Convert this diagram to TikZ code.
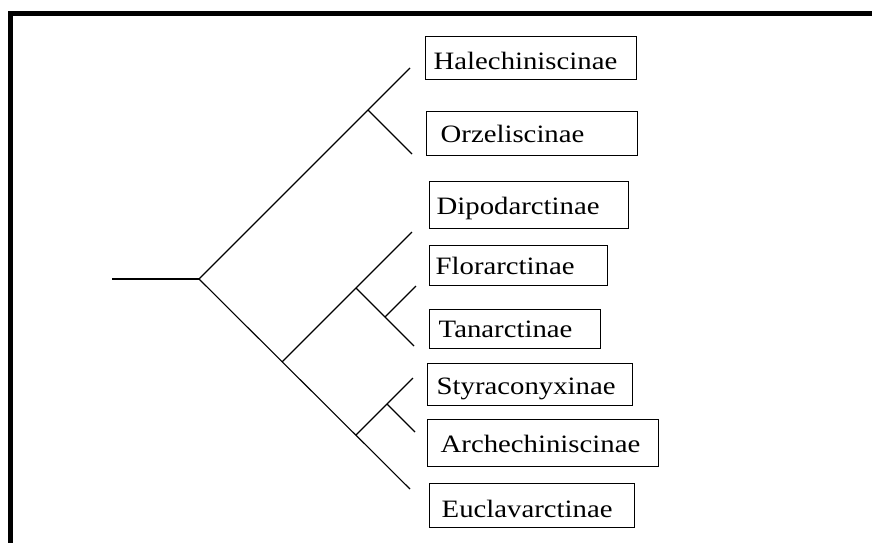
\documentclass[tikz,border=0pt]{standalone}
\usepackage{fontspec}
\setmainfont{Liberation Serif}
\newcommand{\taxonname}[1]{\scalebox{1.15}[1]{#1}}
\begin{document}
\begin{tikzpicture}[x=1pt,y=-1pt,
  branch/.style={line width=1.1pt,black},
  taxon/.style={draw,line width=1.4pt,anchor=north west,align=left,inner ysep=0pt,
    font=\fontsize{25}{29}\selectfont},
  frame/.style={line width=5pt,line join=miter}]
\useasboundingbox (0,0) rectangle (872,542);
% heavy frame along the top and left edges
\draw[frame] (10.5,550) -- (10.5,13.5) -- (880,13.5);

% branching points and branch tips
\coordinate (base) at (112,279);
\coordinate (root) at (199,279);
\coordinate (tipHal) at (410,68);
\coordinate (nHO) at (368,110);
\coordinate (tipOrz) at (412,154);
\coordinate (tipEuc) at (410,489);
\coordinate (nA) at (282,362);
\coordinate (tipDip) at (412,232);
\coordinate (nB) at (356,288);
\coordinate (tipTan) at (414,346);
\coordinate (nC) at (385,317);
\coordinate (tipFlo) at (416,286);
\coordinate (nD) at (356,435);
\coordinate (tipSty) at (413,378);
\coordinate (nE) at (387,404);
\coordinate (tipArc) at (415,432);

\draw[branch] (base) -- (root);
\draw[branch] (root) -- (tipHal);
\draw[branch] (root) -- (tipEuc);
\draw[branch] (nHO) -- (tipOrz);
\draw[branch] (nA) -- (tipDip);
\draw[branch] (nB) -- (tipTan);
\draw[branch] (nC) -- (tipFlo);
\draw[branch] (nD) -- (tipSty);
\draw[branch] (nE) -- (tipArc);

% taxon boxes
\node[taxon,inner xsep=8pt,text width=195pt,text height=33pt,text depth=10pt] (hal) at (425,36) {\taxonname{Halechiniscinae}};
\node[taxon,inner xsep=14pt,text width=183pt,text height=31pt,text depth=13pt] (orz) at (426,111) {\taxonname{Orzeliscinae}};
\node[taxon,inner xsep=7pt,text width=185pt,text height=33pt,text depth=14pt] (dip) at (429,181) {\taxonname{Dipodarctinae}};
\node[taxon,inner xsep=6pt,text width=166pt,text height=29pt,text depth=11pt] (flo) at (429,245) {\taxonname{Florarctinae}};
\node[taxon,inner xsep=9pt,text width=153pt,text height=28pt,text depth=11pt] (tan) at (429,309) {\taxonname{Tanarctinae}};
\node[taxon,inner xsep=9pt,text width=187pt,text height=31pt,text depth=11pt] (sty) at (427,363) {\taxonname{Styraconyxinae}};
\node[taxon,inner xsep=13pt,text width=205pt,text height=33pt,text depth=14pt] (arc) at (427,419) {\taxonname{Archechiniscinae}};
\node[taxon,inner xsep=12pt,text width=181pt,text height=34pt,text depth=10pt] (euc) at (429,483) {\taxonname{Euclavarctinae}};
\end{tikzpicture}
\end{document}
